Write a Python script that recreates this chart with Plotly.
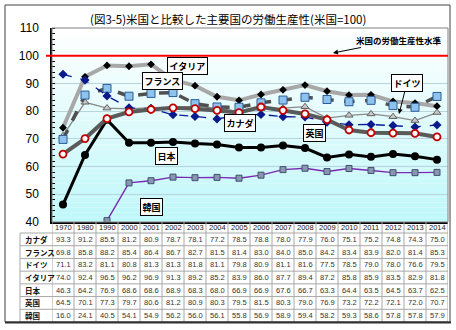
import plotly.graph_objects as go

years = ["1970", "1980", "1990", "2000", "2001", "2002", "2003", "2004", "2005",
         "2006", "2007", "2008", "2009", "2010", "2011", "2012", "2013", "2014"]

canada = [93.3, 91.2, 85.5, 81.2, 80.9, 78.7, 78.1, 77.2, 78.5, 78.8, 78.0, 77.9, 76.0, 75.1, 75.2, 74.8, 74.3, 75.0]
france = [69.8, 85.8, 88.2, 85.4, 86.4, 86.7, 82.7, 81.5, 81.4, 83.0, 84.0, 85.0, 84.2, 83.4, 83.9, 82.0, 81.4, 85.3]
germany = [71.1, 83.2, 81.1, 80.8, 81.3, 81.3, 81.8, 81.1, 79.8, 80.9, 81.1, 81.6, 77.5, 78.5, 79.0, 78.0, 76.6, 79.5]
italy = [74.0, 92.4, 96.5, 96.2, 96.9, 91.3, 89.2, 85.2, 83.9, 86.0, 87.7, 89.4, 87.2, 85.8, 85.9, 83.5, 82.9, 81.8]
japan = [46.3, 64.2, 76.9, 68.6, 68.6, 68.9, 68.3, 68.0, 66.9, 66.9, 67.6, 66.7, 63.3, 64.4, 63.5, 64.5, 63.7, 62.5]
uk = [64.5, 70.1, 77.3, 79.7, 80.6, 81.2, 80.9, 80.3, 79.5, 81.5, 80.3, 79.0, 76.9, 73.2, 72.2, 72.1, 72.0, 70.7]
korea = [16.0, 24.1, 40.5, 54.1, 54.9, 56.2, 56.0, 56.1, 55.8, 56.9, 58.9, 59.4, 58.2, 59.3, 58.6, 57.8, 57.8, 57.9]

row_names = ["カナダ", "フランス", "ドイツ", "イタリア", "日本", "英国", "韓国"]
row_values = [canada, france, germany, italy, japan, uk, korea]

us_level = 100
title = "(図3-5)米国と比較した主要国の労働生産性(米国=100)"
us_label = "米国の労働生産性水準"

FONT = "Liberation Sans, Arial, Noto Sans CJK JP, sans-serif"
JFONT = "Noto Sans CJK JP, Liberation Sans, sans-serif"

W, H = 456, 330
L, R, T, B = 52, 8, 28, 108
PW, PH = W - L - R, H - T - B


def px(xp):
    return (xp - L) / PW


def py(yp):
    return (H - B - yp) / PH


fig = go.Figure()

fig.add_trace(go.Scatter(x=years, y=italy, mode="lines+markers", name="イタリア",
                         line=dict(color="#a8a8a8", width=4),
                         marker=dict(symbol="diamond", size=6, color="black")))
fig.add_trace(go.Scatter(x=years, y=germany, mode="lines+markers", name="ドイツ",
                         line=dict(color="#8a8a8a", width=1.3),
                         marker=dict(symbol="triangle-up", size=7, color="#c8c8c8",
                                     line=dict(color="#606060", width=1))))
fig.add_trace(go.Scatter(x=years, y=france, mode="lines+markers", name="フランス",
                         line=dict(color="#505050", width=3.5, dash="dash"),
                         marker=dict(symbol="square", size=8, color="#8ec3ee",
                                     line=dict(color="#2a5c96", width=1))))
fig.add_trace(go.Scatter(x=years, y=canada, mode="lines+markers", name="カナダ",
                         line=dict(color="#0a1a9a", width=1.3, dash="dash"),
                         marker=dict(symbol="diamond", size=7, color="#0a1a8a")))
fig.add_trace(go.Scatter(x=years, y=japan, mode="lines+markers", name="日本",
                         line=dict(color="black", width=3),
                         marker=dict(symbol="circle", size=8, color="black")))
fig.add_trace(go.Scatter(x=years, y=uk, mode="lines+markers", name="英国",
                         line=dict(color="#5a5a5a", width=4),
                         marker=dict(symbol="circle", size=7, color="white",
                                     line=dict(color="#c00000", width=1.8))))
fig.add_trace(go.Scatter(x=years, y=korea, mode="lines+markers", name="韓国",
                         line=dict(color="#7a2ab0", width=1.4),
                         marker=dict(symbol="square", size=6, color="#8898b0",
                                     line=dict(color="#405070", width=1))))

shapes = []
n = 40
for i in range(n):
    t = i / (n - 1)
    r = int(255 + (192 - 255) * t)
    g = int(255 + (248 - 255) * t)
    b = int(255 + (250 - 255) * t)
    shapes.append(dict(type="rect", xref="paper", yref="paper",
                       x0=0, x1=1, y0=1 - (i + 1) / n, y1=1 - i / n,
                       fillcolor=f"rgb({r},{g},{b})", line=dict(width=0), layer="below"))
shapes.append(dict(type="rect", xref="paper", yref="paper", x0=0, x1=1, y0=0, y1=1,
                   line=dict(color="#808080", width=1)))
shapes.append(dict(type="line", xref="paper", yref="y", x0=px(46), x1=1,
                   y0=us_level, y1=us_level, line=dict(color="#ff0000", width=2)))

grid_c = "#a8a8a8"
row_top = 233
row_h = (322 - row_top) / 7
for j in range(len(years) + 1):
    shapes.append(dict(type="line", xref="x", yref="paper", x0=j - 0.5, x1=j - 0.5,
                       y0=0, y1=py(322), line=dict(color=grid_c, width=1)))
shapes.append(dict(type="line", xref="paper", yref="paper", x0=px(20), x1=px(20),
                   y0=py(row_top), y1=py(322), line=dict(color=grid_c, width=1)))
for k in range(8):
    yy = row_top + k * row_h
    shapes.append(dict(type="line", xref="paper", yref="paper", x0=px(20), x1=1,
                       y0=py(yy), y1=py(yy), line=dict(color=grid_c, width=1)))
shapes.append(dict(type="rect", xref="paper", yref="paper", x0=px(5), x1=px(450),
                   y0=py(322), y1=py(5), line=dict(color="#404040", width=1)))
shapes.append(dict(type="line", xref="paper", yref="paper", x0=px(5), x1=px(451),
                   y0=py(322.5), y1=py(322.5), line=dict(color="#303030", width=2)))

annotations = []
for j, yv in enumerate(years):
    annotations.append(dict(x=j, y=py(227.7), xref="x", yref="paper", text=yv,
                            yanchor="middle", showarrow=False,
                            font=dict(family=FONT, size=7.5, color="#222")))
for r_i, (nm, vals) in enumerate(zip(row_names, row_values)):
    yc = py(row_top + (r_i + 0.5) * row_h)
    annotations.append(dict(x=px(23), y=yc, xref="paper", yref="paper", text=f"<b>{nm}</b>",
                            xanchor="left", yanchor="middle", showarrow=False,
                            font=dict(family=JFONT, size=7.5, color="#111")))
    for j, v in enumerate(vals):
        annotations.append(dict(x=j, y=yc, xref="x", yref="paper", text=f"{v:.1f}",
                                yanchor="middle", showarrow=False,
                                font=dict(family=FONT, size=7.5, color="#333")))

annotations.append(dict(x=px(228), y=py(19), xref="paper", yref="paper", text=title,
                        yanchor="middle", showarrow=False,
                        font=dict(family=JFONT, size=11.5, color="black")))

box = dict(showarrow=False, xref="paper", yref="paper", bgcolor="white", yanchor="middle",
           bordercolor="black", borderwidth=1, borderpad=1.5)
for txt, cx, cy in [("イタリア", 187, 66), ("フランス", 142, 81), ("カナダ", 240, 123),
                    ("英国", 326, 133), ("日本", 155, 156), ("韓国", 140, 207)]:
    annotations.append(dict(x=px(cx), y=py(cy), text=f"<b>{txt}</b>",
                            font=dict(family=JFONT, size=9, color="black"), **box))
annotations.append(dict(x=px(399), y=py(114), xref="paper", yref="paper", text="<b>ドイツ</b>",
                        showarrow=True, ax=8, ay=-31, arrowhead=2, arrowsize=1, arrowwidth=1,
                        arrowcolor="black", bgcolor="white", bordercolor="black",
                        borderwidth=1, borderpad=1.5,
                        font=dict(family=JFONT, size=9, color="black")))
annotations.append(dict(x=px(333), y=py(53), xref="paper", yref="paper", text=f"<b>{us_label}</b>",
                        showarrow=True, ax=66, ay=-13, arrowhead=2, arrowsize=1, arrowwidth=1,
                        arrowcolor="black",
                        font=dict(family=JFONT, size=8.5, color="black")))

fig.update_layout(
    width=W, height=H,
    margin=dict(l=L, r=R, t=T, b=B, pad=0, autoexpand=False),
    paper_bgcolor="white", plot_bgcolor="white",
    showlegend=False,
    shapes=shapes, annotations=annotations,
    xaxis=dict(type="category", range=[-0.5, len(years) - 0.5], showticklabels=False,
               showgrid=False, zeroline=False, showline=True, linecolor="black",
               linewidth=1.5, ticks="", automargin=False),
    yaxis=dict(range=[40, 110], dtick=10, tick0=40, showgrid=True, gridcolor="#b8d4dc",
               gridwidth=1, zeroline=False, showline=True, linecolor="black", linewidth=1.5,
               ticks="outside", ticklen=9, tickcolor="rgba(0,0,0,0)", automargin=False,
               tickfont=dict(family=FONT, size=12, color="black"),
               minor=dict(dtick=2, ticks="inside", ticklen=3, tickcolor="black", showgrid=False)),
)

fig.write_html("out.html")
